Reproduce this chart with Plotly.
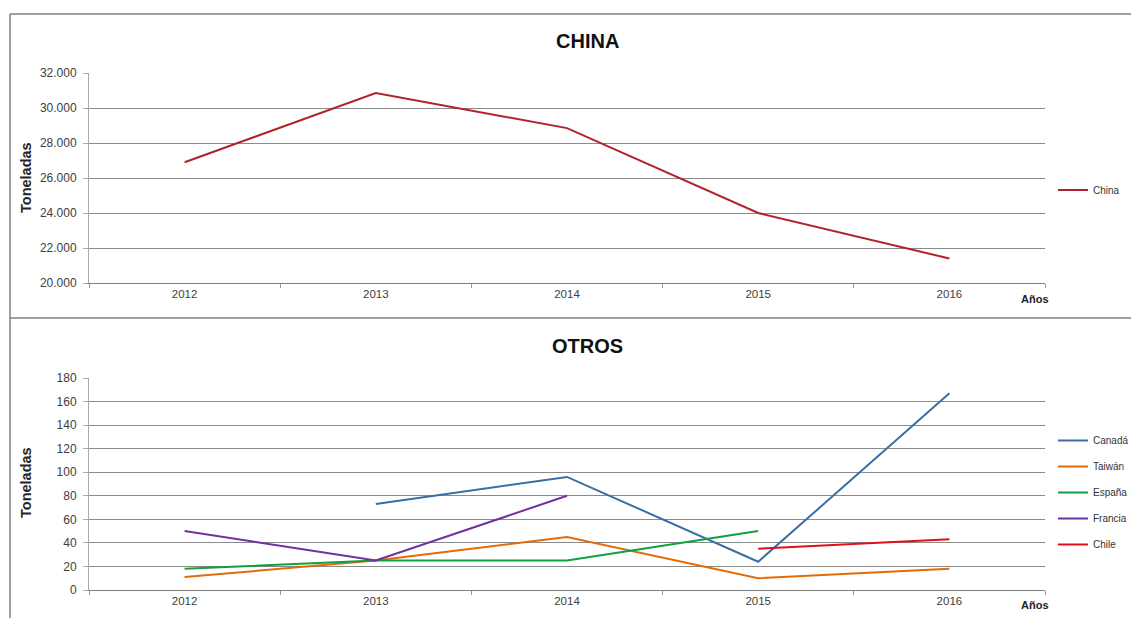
import plotly.graph_objects as go

# Exportaciones por país de destino (toneladas)
years = ["2012", "2013", "2014", "2015", "2016"]
china = [26900, 30850, 28850, 24000, 21400]

canada = [None, 73, 96, 24, 167]
taiwan = [11, 25, 45, 10, 18]
espana = [18, 25, 25, 50, None]
francia = [50, 25, 80, None, None]
chile = [None, None, None, 35, 43]

W, H = 1131, 618


def px_x(p):
    return p / W


def px_y(p):
    return 1 - p / H


FONT = "Liberation Sans, Arial"
GRID = "#8a8a8a"

fig = go.Figure()

fig.add_trace(go.Scatter(x=years, y=china, name="China", mode="lines",
                         line=dict(color="#B0232A", width=2),
                         xaxis="x", yaxis="y", legend="legend"))

otros = [
    ("Canadá", canada, "#3A6EA5"),
    ("Taiwán", taiwan, "#E36C09"),
    ("España", espana, "#10A040"),
    ("Francia", francia, "#7030A0"),
    ("Chile", chile, "#E0101A"),
]
for name, vals, color in otros:
    fig.add_trace(go.Scatter(x=years, y=vals, name=name, mode="lines",
                             line=dict(color=color, width=2),
                             connectgaps=False, legendgroup=name,
                             xaxis="x2", yaxis="y2", legend="legend2"))

xcommon = dict(type="category", range=[-0.5, 4.5], showline=True,
               linecolor="#7f7f7f", linewidth=1, ticks="outside",
               tickson="boundaries", ticklen=4, tickcolor="#9a9a9a",
               showgrid=False, tickfont=dict(family=FONT, size=11.5, color="#404040"),
               fixedrange=True)
ycommon = dict(showline=True, linecolor="#a8a8a8", linewidth=1,
               ticks="outside", ticklen=5, tickcolor="#a8a8a8",
               ticklabelstandoff=4,
               showgrid=True, gridcolor=GRID, gridwidth=1, zeroline=False,
               tickfont=dict(family=FONT, size=12, color="#404040"),
               fixedrange=True)

dom_x = [px_x(89), px_x(1045)]
legend_font = dict(family=FONT, size=10, color="#333")
fig.update_layout(
    width=W, height=H,
    # legends sit at the right edge; keep them from pushing the plot areas
    margin=dict(l=0, r=0, t=0, b=0, autoexpand=False),
    paper_bgcolor="white", plot_bgcolor="white",
    separators=",.",
    xaxis=dict(domain=dom_x, anchor="y", **xcommon),
    yaxis=dict(domain=[px_y(283), px_y(73)], range=[20000, 32000],
               dtick=2000, tickformat=",.0f", anchor="x", **ycommon),
    xaxis2=dict(domain=dom_x, anchor="y2", **xcommon),
    yaxis2=dict(domain=[px_y(590), px_y(378)], range=[0, 180],
                dtick=20, anchor="x2", **ycommon),
    legend=dict(x=px_x(1053), y=px_y(190), xanchor="left", yanchor="middle",
                bgcolor="rgba(0,0,0,0)", itemwidth=30, font=legend_font),
    legend2=dict(x=px_x(1053), y=px_y(426), xanchor="left", yanchor="top",
                 bgcolor="rgba(0,0,0,0)", itemwidth=30, tracegroupgap=7,
                 font=legend_font),
    showlegend=True,
)

# Títulos de cada gráfico, del eje vertical y del eje de años
for text, ypix in [("CHINA", 41), ("OTROS", 346)]:
    fig.add_annotation(text=text, x=px_x(587), y=px_y(ypix), xref="paper",
                       yref="paper", xanchor="center", yanchor="middle",
                       showarrow=False,
                       font=dict(family=FONT, size=20,
                                 color="#111", weight="bold"))
for ypix in [178, 483]:
    fig.add_annotation(text="Toneladas", x=px_x(26), y=px_y(ypix),
                       xref="paper", yref="paper", xanchor="center",
                       yanchor="middle", textangle=-90, showarrow=False,
                       font=dict(family=FONT, size=14.5, color="#262626",
                                 weight="bold"))
for ypix in [299, 605]:
    fig.add_annotation(text="Años", x=px_x(1019), y=px_y(ypix), xref="paper",
                       yref="paper", xanchor="left", yanchor="middle",
                       showarrow=False,
                       font=dict(family=FONT, size=11, color="#222",
                                 weight="bold"))

# Marcos de los dos gráficos
frame = dict(color="#808080", width=1.5)
fig.add_shape(type="line", xref="paper", yref="paper", x0=px_x(10), x1=1,
              y0=px_y(14), y1=px_y(14), line=frame)
fig.add_shape(type="line", xref="paper", yref="paper", x0=px_x(10), x1=px_x(10),
              y0=px_y(14), y1=0, line=frame)
fig.add_shape(type="line", xref="paper", yref="paper", x0=px_x(10), x1=1,
              y0=px_y(318), y1=px_y(318), line=frame)

fig.write_html("out.html")
